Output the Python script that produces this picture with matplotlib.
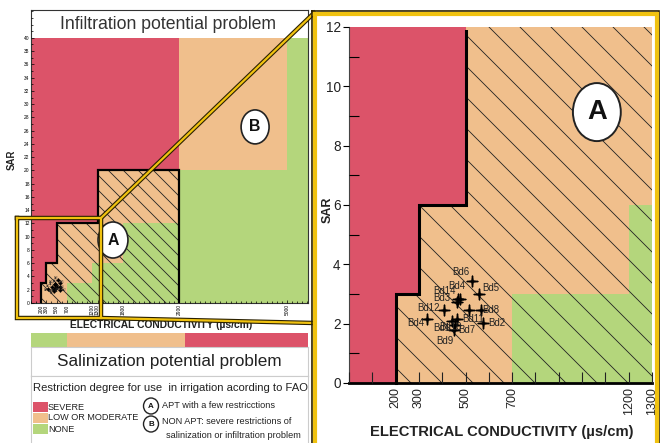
import numpy as np
import matplotlib
matplotlib.use('Agg')
import matplotlib.pyplot as plt
from matplotlib import font_manager
from matplotlib.patches import Polygon, Rectangle, Ellipse
from matplotlib.lines import Line2D
from matplotlib.path import Path
from matplotlib.ticker import MultipleLocator

# ---- datos ----
# frontera del area A (apta con pocas restricciones)
step_ec = [200, 200, 300, 300, 500, 500, 1300, 1300, 2900, 2900]
step_sar = [0, 3, 3, 6, 6, 12, 12, 20, 20, 0]
ec_max = 5410
sar_max = 40

severe_zone = (0, 2900, 0, 40)
low_zones = [(2900, 5000, 20, 40)]
none_zones = [(700, 1200, 0, 3), (1200, 1800, 0, 6), (1800, 2900, 0, 12),
              (2900, ec_max, 0, 20), (5000, ec_max, 20, 40)]

# barra de salinizacion
sal_edges = [0, 700, 3000, ec_max]
sal_levels = ['none', 'low', 'severe']

overview_xticks = [200, 300, 500, 700, 1200, 1300, 1800, 2900, 5000]
zoom_xticks = [200, 300, 500, 700, 1200, 1300]

# muestras
bd_names = ['Bd1', 'Bd2', 'Bd3', 'Bd4', 'Bd5', 'Bd6', 'Bd7', 'Bd8', 'Bd9',
            'Bd10', 'Bd11', 'Bd12', 'Bd4', 'Bd14']
bd_ec = [440, 576, 462, 476, 558, 526, 455, 566, 450, 462, 515, 408, 333, 466]
bd_sar = [2.10, 2.03, 2.72, 2.84, 2.99, 3.43, 1.95, 2.47, 1.80, 2.17, 2.47, 2.45, 2.15, 2.84]
# desplazamiento de etiquetas (px)
lbl_dx = [-10, 14, -15, -3, 12, -11, 12, 10, -9, -6, 4, -16, -11, -13]
lbl_dy = [-7, 0, 4, 13, 6, 9, -5, 0, -11, -8, -9, 2, -4, 8]

RED = '#DC5369'
ORANGE = '#F0BF8C'
GREEN = '#B4D67C'
GOLD = '#F0C210'
DARK = '#2A2000'
zone_colors = {'none': GREEN, 'low': ORANGE, 'severe': RED}

names = {f.name for f in font_manager.fontManager.ttflist}
if 'Liberation Sans Narrow' in names:
    FAM, k = 'Liberation Sans Narrow', 1.0
else:
    FAM, k = 'Liberation Sans', 0.82
plt.rcParams['font.family'] = [FAM, 'DejaVu Sans']

# estrella fina de 4 puntas
ang = np.pi / 2 + np.arange(8) * np.pi / 4
rad = np.where(np.arange(8) % 2 == 0, 1.0, 0.16)
star_v = np.column_stack([rad * np.cos(ang), rad * np.sin(ang)])
star_v = np.vstack([star_v, star_v[:1]])
STAR = Path(star_v, [Path.MOVETO] + [Path.LINETO] * 7 + [Path.CLOSEPOLY])

W, H = 661, 443
fig = plt.figure(figsize=(W / 100, H / 100), dpi=100)


def px_axes(x0, y0, x1, y1):
    return fig.add_axes([x0 / W, 1 - y1 / H, (x1 - x0) / W, (y1 - y0) / H])


def fxy(x, y):
    return x / W, 1 - y / H


def draw_zones(ax, w_px, h_px, spacing, outline_lw, clip_rect=None):
    x0, x1, y0, y1 = severe_zone
    ax.add_patch(Rectangle((x0, y0), x1 - x0, y1 - y0, fc=RED, ec='none'))
    poly = Polygon(np.column_stack([step_ec, step_sar]), closed=True, fc=ORANGE, ec='none')
    ax.add_patch(poly)
    for x0, x1, y0, y1 in low_zones:
        ax.add_patch(Rectangle((x0, y0), x1 - x0, y1 - y0, fc=ORANGE, ec='none'))
    for x0, x1, y0, y1 in none_zones:
        ax.add_patch(Rectangle((x0, y0), x1 - x0, y1 - y0, fc=GREEN, ec='none'))
    # rayado del area A
    for p in np.arange(-h_px, w_px + spacing, spacing):
        ln = Line2D([p / w_px, (p + h_px) / w_px], [1, 0], transform=ax.transAxes,
                    color='#222222', lw=0.6, zorder=2)
        ax.add_line(ln)
        ln.set_clip_path(poly)
    out, = ax.plot(step_ec, step_sar, color='black', lw=outline_lw, zorder=3,
                   solid_joinstyle='miter')
    if clip_rect is not None:
        out.set_clip_path(clip_rect)


# ---- vista general ----
ax1 = px_axes(31, 10, 308, 303)
draw_zones(ax1, 277, 293, 15, 1.6)
ax1.set_xlim(0, ec_max)
ax1.set_ylim(0, 44.2)
ax1.set_axisbelow(False)
ax1.set_xticks(overview_xticks)
ax1.set_xticklabels([str(v) for v in overview_xticks], rotation=90, fontsize=3.5)
ax1.set_yticks(range(0, sar_max + 1, 2))
ax1.tick_params(axis='y', labelsize=3.5, length=2, width=0.5, direction='in', pad=1)
ax1.tick_params(axis='x', length=2, width=0.5, direction='in', pad=1)
ax1.xaxis.set_minor_locator(MultipleLocator(100))
ax1.yaxis.set_minor_locator(MultipleLocator(1))
ax1.tick_params(which='minor', length=1.5, width=0.5, direction='in')
for s in ax1.spines.values():
    s.set_linewidth(0.8)
    s.set_color('#333333')
ax1.text(0.495, 0.949, 'Infiltration potential problem', transform=ax1.transAxes,
         ha='center', va='center', fontsize=15.5 * k, color='#333333')
ax1.set_xlabel('ELECTRICAL CONDUCTIVITY (µs/cm)', fontsize=9 * k, fontweight='bold',
               color='#222222')
ax1.xaxis.set_label_coords(0.47, -0.058)
ax1.set_ylabel('SAR', fontsize=8.5 * k, fontweight='bold', color='#222222')
ax1.yaxis.set_label_coords(-0.052, 0.488)
ax1.plot(bd_ec, bd_sar, linestyle='none', marker=STAR, markersize=2.2,
         color='black', zorder=5)
for n, x, y, dx, dy in zip(bd_names, bd_ec, bd_sar, lbl_dx, lbl_dy):
    ax1.annotate(n, (x, y), xytext=(dx * 0.22, dy * 0.22), textcoords='offset pixels',
                 ha='center', va='center', fontsize=1.8, color='#222222', zorder=6)
for cx, cy, ew, eh, t in [(0.296, 0.215, 0.108, 0.123, 'A'), (0.809, 0.601, 0.101, 0.116, 'B')]:
    ax1.add_patch(Ellipse((cx, cy), ew, eh, transform=ax1.transAxes, fc='white',
                          ec='#222222', lw=1.2, zorder=7))
    ax1.text(cx, cy, t, transform=ax1.transAxes, ha='center', va='center',
             fontsize=14 * k, fontweight='bold', color='#111111', zorder=8)

# barra salinizacion
axb = px_axes(31, 333, 308, 347)
for i, lev in enumerate(sal_levels):
    axb.barh(0, sal_edges[i + 1] - sal_edges[i], left=sal_edges[i], height=1,
             color=zone_colors[lev])
axb.set_xlim(0, ec_max)
axb.set_ylim(-0.5, 0.5)
axb.axis('off')

axs = px_axes(31, 347, 308, 376)
axs.set_xticks([])
axs.set_yticks([])
for s in axs.spines.values():
    s.set_color('#cccccc')
    s.set_linewidth(0.8)
axs.text(0.5, 0.5, 'Salinization potential problem', transform=axs.transAxes,
         ha='center', va='center', fontsize=15 * k, color='#222222')

axl = px_axes(31, 376, 308, 450)
axl.set_xticks([])
axl.set_yticks([])
for s in axl.spines.values():
    s.set_color('#cccccc')
    s.set_linewidth(0.8)

fig.text(*fxy(33, 388), 'Restriction degree for use  in irrigation acording to FAO',
         ha='left', va='center', fontsize=9.9 * k, color='#222222')
for yy, c, t in [(407, RED, 'SEVERE'), (418, ORANGE, 'LOW OR MODERATE'), (429, GREEN, 'NONE')]:
    x0, y0 = fxy(33, yy + 5)
    fig.add_artist(Rectangle((x0, y0), 15 / W, 10 / H, transform=fig.transFigure,
                             fc=c, ec='none'))
    fig.text(*fxy(48, yy), t, ha='left', va='center', fontsize=8.0 * k, color='#222222')
for yy, t in [(406, 'A'), (424, 'B')]:
    fig.add_artist(Ellipse(fxy(151, yy), 15 / W, 16 / H, transform=fig.transFigure,
                           fc='white', ec='#222222', lw=1.0))
    fig.text(*fxy(151, yy), t, ha='center', va='center', fontsize=7 * k,
             fontweight='bold', color='#111111')
fig.text(*fxy(162, 406), 'APT with a few restricctions', ha='left', va='center',
         fontsize=8 * k, color='#222222')
fig.text(*fxy(162, 421), 'NON APT: severe restrictions of', ha='left', va='center',
         fontsize=8 * k, color='#222222')
fig.text(*fxy(166, 435), 'salinization or infiltration problem', ha='left', va='center',
         fontsize=8 * k, color='#222222')

# ---- zona A ampliada ----
ax2 = px_axes(349, 27, 652, 383)
clip = Rectangle((0, -0.5), 1300, 12.4, transform=ax2.transData)
draw_zones(ax2, 303, 356, 31, 2.2, clip_rect=clip)
ax2.set_xlim(0, 1300)
ax2.set_ylim(0, 12)
ax2.set_axisbelow(False)
ax2.set_xticks(zoom_xticks)
ax2.set_xticklabels([str(v) for v in zoom_xticks], rotation=90, fontsize=11 * k,
                    color='#222222')
ax2.xaxis.set_minor_locator(MultipleLocator(100))
ax2.tick_params(axis='x', which='both', direction='in', length=8, width=0.8, pad=3,
                color='#222222')
ax2.set_yticks(range(0, 13, 2))
ax2.yaxis.set_minor_locator(MultipleLocator(1))
ax2.tick_params(axis='y', which='major', direction='out', length=4, width=0.8,
                labelsize=12 * k, labelcolor='#222222', pad=2)
ax2.tick_params(axis='y', which='minor', direction='in', length=7, width=0.8)
ax2.spines['top'].set_visible(False)
ax2.spines['right'].set_visible(False)
ax2.spines['left'].set_linewidth(0.8)
ax2.spines['left'].set_color('#444444')
ax2.spines['bottom'].set_linewidth(2)
ax2.spines['bottom'].set_color('black')
ax2.set_xlabel('ELECTRICAL CONDUCTIVITY (µs/cm)', fontsize=13 * k, fontweight='bold',
               color='#222222')
ax2.xaxis.set_label_coords(0.505, -0.117)
ax2.set_ylabel('SAR', fontsize=11 * k, fontweight='bold', color='#222222')
ax2.yaxis.set_label_coords(-0.05, 0.486)
ax2.plot(bd_ec, bd_sar, linestyle='none', marker=STAR, markersize=8,
         color='black', zorder=5)
for n, x, y, dx, dy in zip(bd_names, bd_ec, bd_sar, lbl_dx, lbl_dy):
    ax2.annotate(n, (x, y), xytext=(dx, dy), textcoords='offset pixels',
                 ha='center', va='center', fontsize=8.5 * k, color='#222222', zorder=6)
ax2.add_patch(Ellipse((0.818, 0.761), 0.158, 0.163, transform=ax2.transAxes, fc='white',
                      ec='#222222', lw=1.4, zorder=7))
ax2.text(0.818, 0.761, 'A', transform=ax2.transAxes, ha='center', va='center',
         fontsize=24 * k, fontweight='bold', color='#111111', zorder=8)

# ---- marco de ampliacion ----
def fig_line(xs, ys, lw, color):
    pts = [fxy(x, y) for x, y in zip(xs, ys)]
    fig.add_artist(Line2D([p[0] for p in pts], [p[1] for p in pts],
                          transform=fig.transFigure, color=color, lw=lw,
                          solid_joinstyle='miter', zorder=10))

for lw, c in [(3.2, DARK), (1.6, GOLD)]:
    fig_line([101, 314], [218, 13], lw, c)
    fig_line([101, 314], [318, 323], lw, c)
    fig_line([17, 101, 101, 17, 17], [218, 218, 318, 318, 218], lw, c)

fig_line([312, 659, 659, 312, 312], [11, 11, 450, 450, 11], 1.2, DARK)
fig_line([314.5, 657, 657, 314.5, 314.5], [13.5, 13.5, 450, 450, 13.5], 3.0, GOLD)

fig.savefig('out.png', dpi=100)
